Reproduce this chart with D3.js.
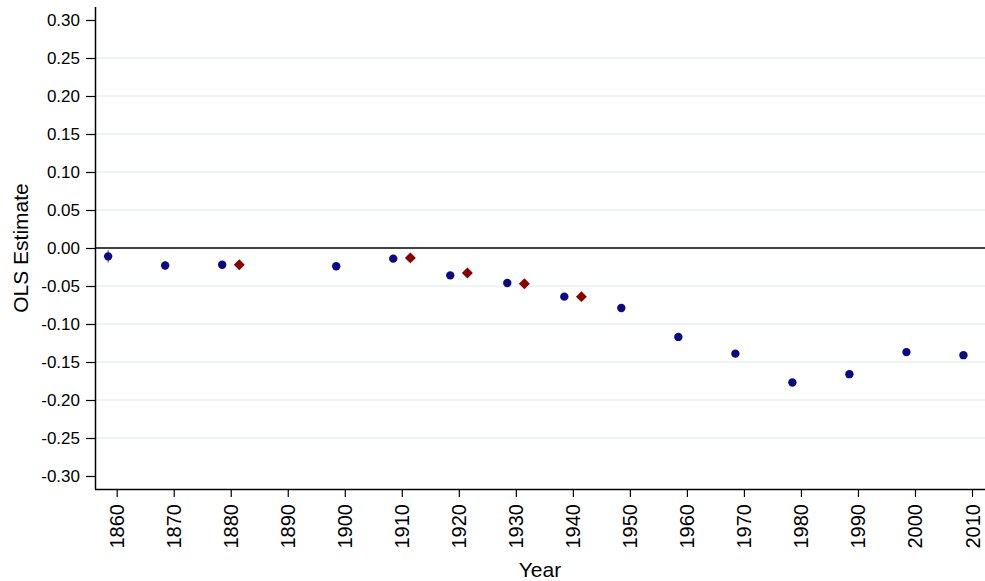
<!DOCTYPE html>
<html>
<head>
<meta charset="utf-8">
<script src="https://cdn.jsdelivr.net/npm/d3@7"></script>
<style>
  body { margin: 0; background: #fff; }
  text { font-family: "Liberation Sans", Arial, sans-serif; fill: #000; }
</style>
</head>
<body>
<svg id="chart"></svg>
<script>
// decades (points are dodged left/right of the tick)
const circleYears = [1860, 1870, 1880, 1900, 1910, 1920, 1930, 1940, 1950, 1960, 1970, 1980, 1990, 2000, 2010];
const circleValues = [-0.011, -0.023, -0.022, -0.024, -0.014, -0.036, -0.046, -0.064, -0.079, -0.117, -0.139, -0.177, -0.166, -0.137, -0.141];
const circleCI = [0.008, 0.006, 0.003, 0.003, 0.003, 0.003, 0.003, 0.003, 0.003, 0.003, 0.003, 0.003, 0.003, 0.003, 0.003];
const diamondYears = [1880, 1910, 1920, 1930, 1940];
const diamondValues = [-0.022, -0.013, -0.033, -0.047, -0.064];
const xTicks = [1860, 1870, 1880, 1890, 1900, 1910, 1920, 1930, 1940, 1950, 1960, 1970, 1980, 1990, 2000, 2010];
const yTicks = [0.30, 0.25, 0.20, 0.15, 0.10, 0.05, 0.00, -0.05, -0.10, -0.15, -0.20, -0.25, -0.30];

const width = 985, height = 581;
const left = 95, bottom = 489;
const svg = d3.select("#chart").attr("width", width).attr("height", height);

const x = d3.scaleLinear().domain([1860, 2010]).range([116.7, 972]);
const y = d3.scaleLinear().domain([-0.30, 0.30]).range([476, 20]);
const dodge = 1.5;

// gridlines
svg.append("g")
    .selectAll("line")
    .data(yTicks.filter(d => Math.abs(d) < 0.29 && d !== 0))
    .enter()
    .append("line")
    .attr("x1", left).attr("x2", width)
    .attr("y1", d => y(d)).attr("y2", d => y(d))
    .attr("stroke", "#eaf0f2")
    .attr("stroke-width", 1.5);

// zero line
svg.append("line")
    .attr("x1", left).attr("x2", width)
    .attr("y1", y(0)).attr("y2", y(0))
    .attr("stroke", "#000")
    .attr("stroke-width", 1.5);

// y axis (plain hyphen for negatives, like the original)
const yAxis = svg.append("g")
    .attr("transform", "translate(" + left + ",0)")
    .call(d3.axisLeft(y).tickValues(yTicks).tickFormat(d => d.toFixed(2)).tickSize(9).tickPadding(6));
yAxis.select(".domain").attr("d", "M0.5,7V" + bottom).attr("stroke", "#000").attr("stroke-width", 1.5);
yAxis.selectAll("text").style("font-size", "17px");
yAxis.selectAll(".tick line").attr("stroke-width", 1.2);

// x axis
const xAxis = svg.append("g")
    .attr("transform", "translate(0," + bottom + ")")
    .call(d3.axisBottom(x).tickValues(xTicks).tickFormat(d3.format("d")).tickSize(8).tickSizeOuter(0));
xAxis.select(".domain").attr("d", "M" + left + ",0.5H" + width).attr("stroke", "#000").attr("stroke-width", 1.5);
xAxis.selectAll(".tick line").attr("stroke-width", 1.2);
xAxis.selectAll("text")
    .style("font-size", "20px")
    .attr("transform", "rotate(-90)")
    .attr("text-anchor", "end")
    .attr("x", -15)
    .attr("y", 0)
    .attr("dy", "0.35em");

// axis titles
svg.append("text")
    .attr("transform", "rotate(-90)")
    .attr("x", -y(0))
    .attr("y", 28)
    .style("text-anchor", "middle")
    .style("font-size", "21px")
    .text("OLS Estimate");
svg.append("text")
    .attr("x", 540)
    .attr("y", 577)
    .style("text-anchor", "middle")
    .style("font-size", "21px")
    .text("Year");

const circles = circleYears.map((d, i) => ({ year: d, value: circleValues[i], ci: circleCI[i] }));
const diamonds = diamondYears.map((d, i) => ({ year: d, value: diamondValues[i] }));

// confidence spikes
svg.append("g")
    .selectAll("line")
    .data(circles)
    .enter()
    .append("line")
    .attr("x1", d => x(d.year - dodge)).attr("x2", d => x(d.year - dodge))
    .attr("y1", d => y(d.value + d.ci)).attr("y2", d => y(d.value - d.ci))
    .attr("stroke", "#6f7fd8")
    .attr("stroke-width", 1.5);

svg.append("g")
    .selectAll("circle")
    .data(circles)
    .enter()
    .append("circle")
    .attr("cx", d => x(d.year - dodge))
    .attr("cy", d => y(d.value))
    .attr("r", 4.2)
    .attr("fill", "#0a0a84");

svg.append("g")
    .selectAll("path")
    .data(diamonds)
    .enter()
    .append("path")
    .attr("d", d3.symbol().type(d3.symbolSquare).size(60))
    .attr("transform", d => "translate(" + x(d.year + dodge) + "," + y(d.value) + ") rotate(45)")
    .attr("fill", "#880000");
</script>
</body>
</html>
